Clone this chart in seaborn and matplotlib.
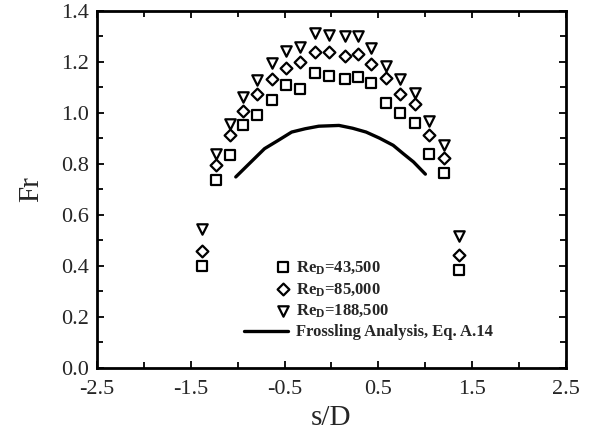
import numpy as np
import pandas as pd
import matplotlib
matplotlib.use("Agg")
import matplotlib.pyplot as plt
import seaborn as sns
from matplotlib.collections import PathCollection
from matplotlib.legend_handler import HandlerPathCollection
from matplotlib.ticker import MultipleLocator

# ---- data ----
s_D = [-1.38, -1.23, -1.08, -0.94, -0.79, -0.63, -0.48, -0.33, -0.18, -0.03,
       0.14, 0.28, 0.42, 0.58, 0.73, 0.89, 1.04, 1.20, 1.36]
fr_43500 = [0.40, 0.736, 0.834, 0.951, 0.992, 1.051, 1.110, 1.094, 1.156, 1.143,
            1.132, 1.139, 1.119, 1.039, 1.000, 0.960, 0.840, 0.766, 0.384]
fr_85000 = [0.46, 0.795, 0.912, 1.009, 1.074, 1.135, 1.178, 1.200, 1.240, 1.239,
            1.223, 1.232, 1.191, 1.136, 1.074, 1.035, 0.914, 0.823, 0.444]
fr_188500 = [0.545, 0.840, 0.957, 1.061, 1.129, 1.194, 1.243, 1.258, 1.314, 1.304,
             1.301, 1.301, 1.256, 1.184, 1.135, 1.077, 0.968, 0.873, 0.516]

frossling_x = [-1.02, -0.857, -0.713, -0.569, -0.424, -0.280, -0.135, 0.081,
               0.226, 0.370, 0.514, 0.659, 0.767, 0.875, 1.002]
frossling_y = [0.749, 0.808, 0.860, 0.892, 0.925, 0.938, 0.948, 0.951,
               0.940, 0.925, 0.901, 0.873, 0.840, 0.808, 0.760]

labels = [r"Re$_{\mathbf{D}}$=43,500", r"Re$_{\mathbf{D}}$=85,000",
          r"Re$_{\mathbf{D}}$=188,500", "Frossling Analysis, Eq. A.14"]

x_ticks = [-2.5, -1.5, -0.5, 0.5, 1.5, 2.5]
y_ticks = [0.0, 0.2, 0.4, 0.6, 0.8, 1.0, 1.2, 1.4]

sns.set_theme(style="ticks")
plt.rcParams["font.family"] = ["Liberation Serif", "DejaVu Serif"]
plt.rcParams["mathtext.fontset"] = "custom"
plt.rcParams["mathtext.rm"] = "Liberation Serif:bold"
plt.rcParams["mathtext.bf"] = "Liberation Serif:bold"
plt.rcParams["mathtext.it"] = "Liberation Serif:bold:italic"

fig = plt.figure(figsize=(5.95, 4.38), dpi=100)
ax = fig.add_axes([0.163, 0.160, 0.788, 0.815])

mk = dict(s=46, facecolor="white", edgecolor="black", linewidth=1.6, zorder=3)
sns.scatterplot(x=s_D, y=fr_43500, marker="s", label=labels[0], ax=ax, **mk)
sns.scatterplot(x=s_D, y=fr_85000, marker="D", label=labels[1], ax=ax,
                **{**mk, "s": 36})
sns.scatterplot(x=s_D, y=fr_188500, marker="v", label=labels[2], ax=ax,
                **{**mk, "s": 56})
sns.lineplot(x=frossling_x, y=frossling_y, color="black", linewidth=2.4,
             estimator=None, sort=False, label=labels[3], ax=ax)

ax.set_xlim(-2.5, 2.5)
ax.set_ylim(0.0, 1.4)
ax.set_xticks(x_ticks)
ax.set_yticks(y_ticks)
ax.set_xticklabels([f"{v:.1f}" for v in x_ticks])
ax.set_yticklabels([f"{v:.1f}" for v in y_ticks])
ax.xaxis.set_minor_locator(MultipleLocator(0.5))
ax.yaxis.set_minor_locator(MultipleLocator(0.1))
ax.tick_params(which="both", direction="in", top=True, right=True,
               width=1.3, color="black")
ax.tick_params(which="major", length=5, labelsize=16)
ax.tick_params(axis="x", which="major", pad=9)
ax.tick_params(axis="y", which="major", pad=6)
ax.tick_params(which="minor", length=4)
for sp in ax.spines.values():
    sp.set_linewidth(2.0)
    sp.set_color("black")

ax.set_xlabel("s/D", fontsize=21, labelpad=4)
ax.set_ylabel("Fr", fontsize=21, labelpad=12)


class RightMarker(HandlerPathCollection):
    def get_xdata(self, legend, xdescent, ydescent, width, height, fontsize):
        x = -xdescent + width - 0.25 * fontsize
        return [x], [x]


handles, labs = ax.get_legend_handles_labels()
leg = ax.legend(handles, labs, loc="upper left", bbox_to_anchor=(0.314, 0.305),
                frameon=False, borderpad=0, borderaxespad=0,
                handlelength=2.6, handletextpad=0.5, labelspacing=0.3,
                scatterpoints=1,
                prop={"family": "Liberation Serif", "weight": "bold", "size": 12},
                handler_map={PathCollection: RightMarker()})

fig.savefig("out.png", dpi=100)
